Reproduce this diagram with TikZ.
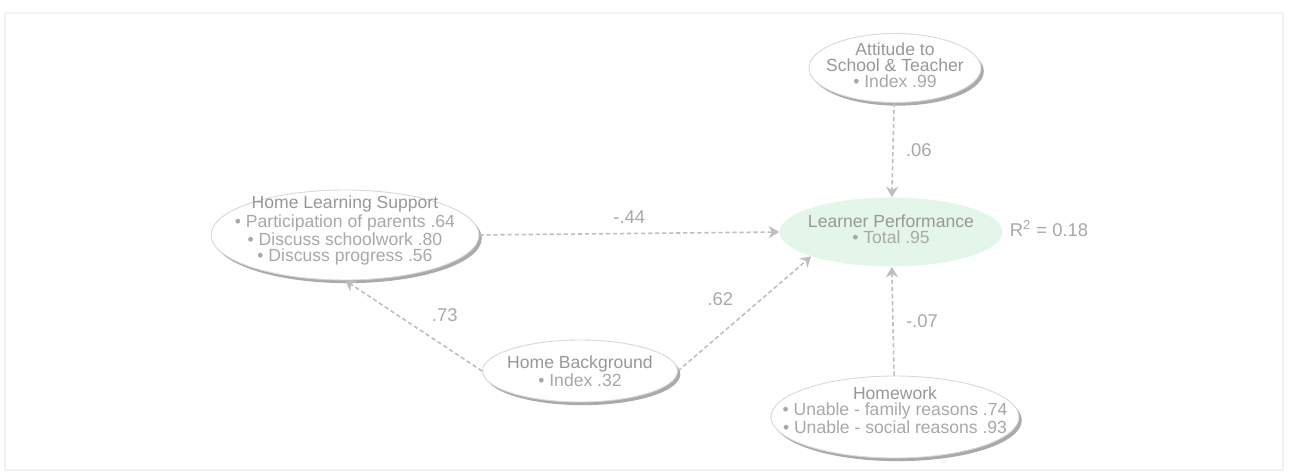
\documentclass[tikz,border=0pt]{standalone}
\usepackage{fontspec}
\setmainfont{Liberation Sans}
\usetikzlibrary{shapes.geometric, shadows, arrows.meta}

\definecolor{txtgray}{RGB}{168,168,168}
\definecolor{titlegray}{RGB}{152,152,152}
\definecolor{linegray}{RGB}{215,215,215}
\definecolor{shadowgray}{RGB}{170,170,170}
\definecolor{dashgray}{RGB}{190,190,190}
\definecolor{lpgreen}{RGB}{228,246,233}

\tikzset{
  factor/.style = {ellipse, draw = linegray, line width = 0.5pt, fill = white, inner sep = 0pt,
    drop shadow = {shadow xshift = 1.6pt, shadow yshift = -1.8pt, fill = shadowgray, opacity = 1}},
  outcome/.style = {ellipse, fill = lpgreen, inner sep = 0pt},
  lbl/.style = {align = center, text = txtgray, inner sep = 0pt, font = \fontsize{10}{9.2}\selectfont},
  link/.style = {draw = dashgray, line width = 0.9pt, dash pattern = on 2.4pt off 1.6pt,
    -{Stealth[length = 6pt, width = 7pt, inset = 2pt]}},
  coef/.style = {text = txtgray, font = \fontsize{10.5}{11}\selectfont, inner sep = 2pt}
}

\begin{document}
\begin{tikzpicture}[x = 0.02cm, y = -0.02cm]
\useasboundingbox (0,0) rectangle (1289,475);
\draw[black!5, line width = 0.6pt] (5,13) rectangle (1283,470);

% factors
\node[factor, minimum width = 3.44cm, minimum height = 1.38cm,
  label = {[lbl, yshift = 1.5pt]center:\textcolor{titlegray}{Attitude to}\\ \textcolor{titlegray}{School \& Teacher}\\ \textbullet\ Index .99}]
  (att) at (895,68) {};
\node[factor, minimum width = 5.36cm, minimum height = 1.8cm,
  label = {[lbl, yshift = 2.5pt]center:\textcolor{titlegray}{Home Learning Support}\\ \textbullet\ Participation of parents .64\\
   \textbullet\ Discuss schoolwork .80\\ \textbullet\ Discuss progress .56}]
  (hls) at (345,235) {};
\node[outcome, minimum width = 4.46cm, minimum height = 1.38cm,
  label = {[lbl, yshift = 1.5pt]center:\textcolor{titlegray}{Learner Performance}\\ \textbullet\ Total .95}]
  (lp) at (891,232) {};
\node[coef, anchor = west] (rsq) at (1006,229) {R\textsuperscript{2} = 0.18};
\node[factor, minimum width = 3.9cm, minimum height = 1.24cm,
  label = {[lbl]center:\textcolor{titlegray}{Home Background}\\ \textbullet\ Index .32}]
  (hb) at (580,371) {};
\node[factor, minimum width = 4.96cm, minimum height = 1.64cm,
  label = {[lbl, yshift = 4pt]center:\textcolor{titlegray}{Homework}\\ \textbullet\ Unable - family reasons .74\\
   \textbullet\ Unable - social reasons .93}]
  (hw) at (895,417) {};

% paths
\draw[link] (att) -- (lp) node[coef, midway, right = 5pt] {.06};
\draw[link] (hls.east) -- (lp.west) node[coef, midway, above = 3pt] {-.44};
\draw[link] (hb.west) -- (hls.south) node[coef, midway, above right, xshift = 8pt] {.73};
\draw[link] (hb.east) -- (lp.197) node[coef, midway, above left, xshift = -4pt, yshift = 2pt] {.62};
\draw[link] (hw) -- (lp) node[coef, midway, right = 5pt] {-.07};
\end{tikzpicture}
\end{document}
